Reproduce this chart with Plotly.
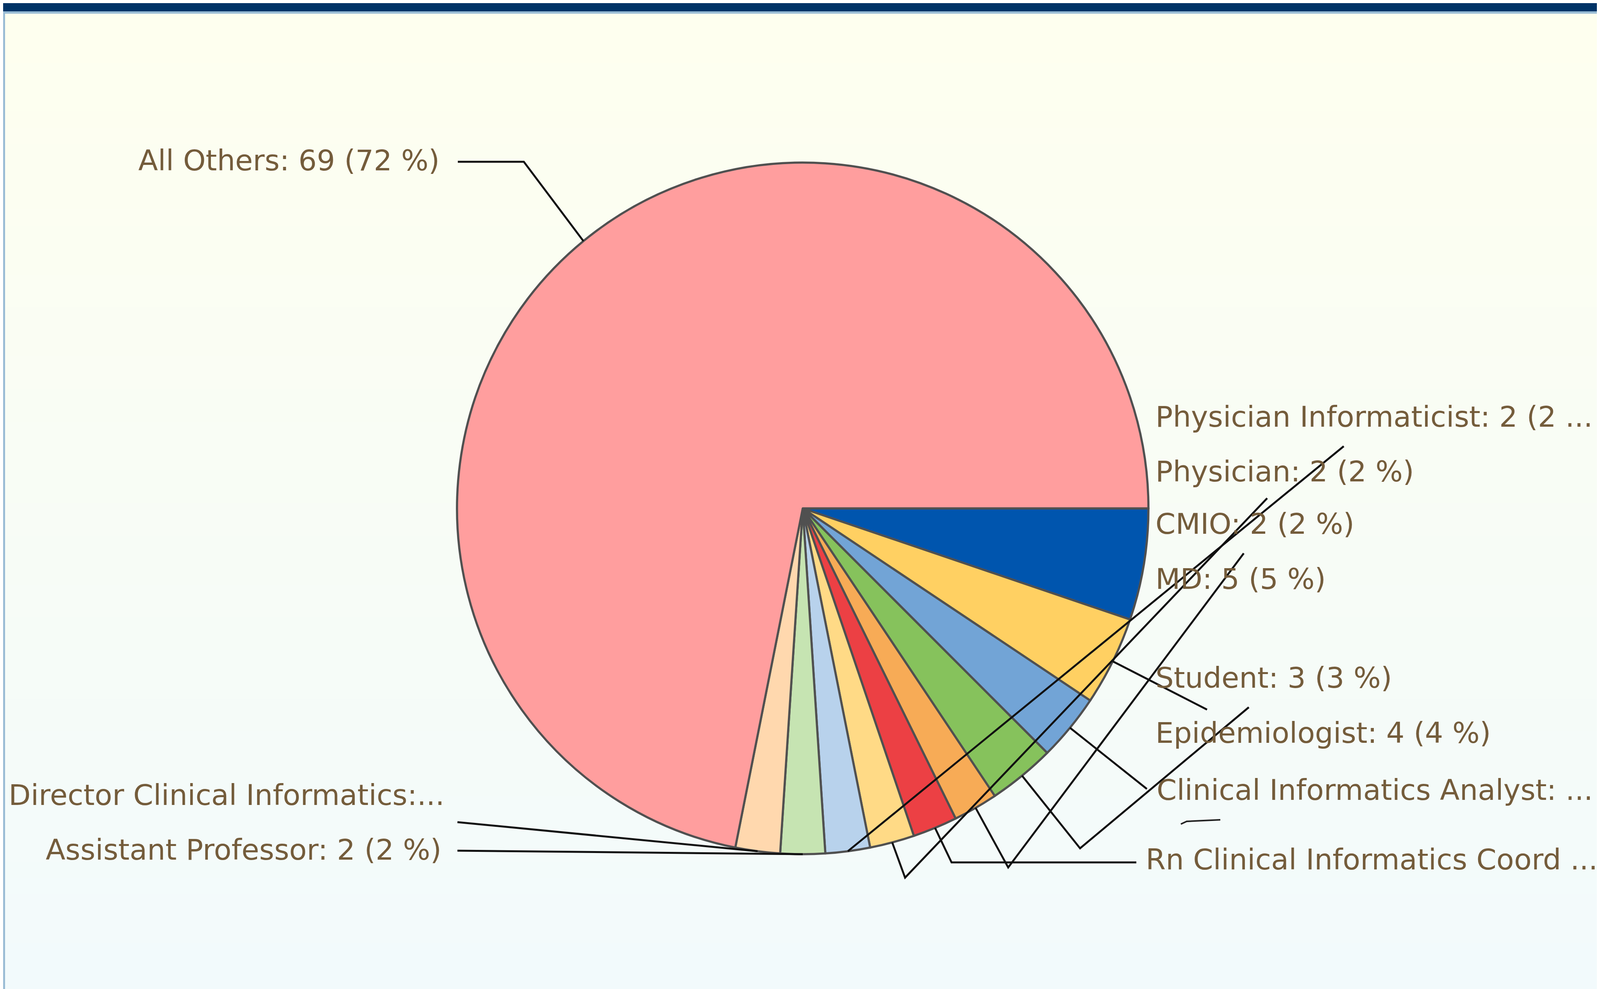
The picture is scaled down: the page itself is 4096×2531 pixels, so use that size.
import math
import plotly.graph_objects as go

# ---------------- data ----------------
categories = ["MD", "Epidemiologist", "Clinical Informatics Analyst", "Student", "CMIO",
              "Rn Clinical Informatics Coordinator", "Physician", "Physician Informaticist",
              "Assistant Professor", "Director Clinical Informatics", "All Others"]
counts = [5, 4, 3, 3, 2, 2, 2, 2, 2, 2, 69]
label_text = ["MD: 5 (5 %)", "Epidemiologist: 4 (4 %)", "Clinical Informatics Analyst: ...",
              "Student: 3 (3 %)", "CMIO: 2 (2 %)", "Rn Clinical Informatics Coord ...",
              "Physician: 2 (2 %)", "Physician Informaticist: 2 (2 ...",
              "Assistant Professor: 2 (2 %)", "Director Clinical Informatics:...",
              "All Others: 69 (72 %)"]

# ---------------- styles / layout (pixels of the 4096x2531 page) ----------------
slice_colors = ["#0055AE", "#FFD062", "#72A4D6", "#86C25C", "#F7AB56", "#EC4044",
                "#FFDA86", "#B8D2EC", "#C6E4B2", "#FFD8AE", "#FF9E9E"]
W, H = 4096, 2531
CX, CY, R = 2047, 1293, 885
TEXT_COLOR = "#745C3B"
FONT = "DejaVu Sans"
FS = 73.6

# label anchor: (x, y, xanchor)
label_pos = {
    "MD": (2948, 1473, "left"),
    "Epidemiologist": (2948, 1867, "left"),
    "Clinical Informatics Analyst": (2951, 2013, "left"),
    "Student": (2948, 1726, "left"),
    "CMIO": (2948, 1332, "left"),
    "Rn Clinical Informatics Coordinator": (2923, 2191, "left"),
    "Physician": (2948, 1198, "left"),
    "Physician Informaticist": (2948, 1058, "left"),
    "Assistant Professor": (1124, 2166, "right"),
    "Director Clinical Informatics": (1132, 2026, "right"),
    "All Others": (1120, 402, "right"),
}
# connector lines: (start + elbow points, slice the line runs to)
leaders = [
    ([(1164, 406), (1333, 406)], "All Others"),
    ([(1163, 2096)], "Director Clinical Informatics"),
    ([(1163, 2169)], "Assistant Professor"),
    ([(3432, 1134)], "Physician Informaticist"),
    ([(3236, 1267), (2309, 2238)], "Physician"),
    ([(3176, 1408), (2573, 2212)], "CMIO"),
    ([(2901, 2199), (2428, 2199)], "Rn Clinical Informatics Coordinator"),
    ([(3189, 1802), (2757, 2163)], "Student"),
    ([(2928, 2011)], "Clinical Informatics Analyst"),
    ([(3082, 1808)], "Epidemiologist"),
]
# short stray connector fragment visible under the analyst label
fragment = [(3015, 2101), (3030, 2094), (3116, 2090)]


def px(x):
    return x / W


def py(y):
    return 1 - y / H


# mid angle of each slice (clockwise from 3 o'clock, screen coords)
total = sum(counts)
mid_angle = {}
cum = 0
for c, v in zip(categories, counts):
    mid_angle[c] = (cum + v / 2) / total * 360.0
    cum += v

fig = go.Figure()
fig.add_trace(go.Pie(
    labels=categories,
    values=counts,
    sort=False,
    direction="clockwise",
    rotation=90,
    textinfo="none",
    hoverinfo="label+value+percent",
    marker=dict(colors=slice_colors, line=dict(color="#505050", width=5.5)),
    domain=dict(x=[px(CX - R), px(CX + R)], y=[py(CY + R), py(CY - R)]),
    showlegend=False,
))

shapes = []
# background vertical gradient (ivory -> pale cyan)
top_rgb = (254, 255, 239)
bot_rgb = (242, 250, 252)
n = 60
y0 = 27
for i in range(n):
    t = i / (n - 1)
    col = tuple(round(a + (b - a) * t) for a, b in zip(top_rgb, bot_rgb))
    ya = y0 + (H - y0) * i / n
    yb = y0 + (H - y0) * (i + 1) / n + 1
    shapes.append(dict(type="rect", xref="paper", yref="paper", layer="below",
                       x0=0, x1=1, y0=py(yb), y1=py(ya), line=dict(width=0),
                       fillcolor="rgb(%d,%d,%d)" % col))
# header bands and frame
shapes.append(dict(type="rect", xref="paper", yref="paper", layer="below", x0=0, x1=1,
                   y0=py(21), y1=1, line=dict(width=0), fillcolor="#003366"))
shapes.append(dict(type="rect", xref="paper", yref="paper", layer="below", x0=0, x1=1,
                   y0=py(27), y1=py(21), line=dict(width=0), fillcolor="#9ABCD5"))
shapes.append(dict(type="rect", xref="paper", yref="paper", layer="below", x0=0, x1=px(5),
                   y0=0, y1=py(21), line=dict(width=0), fillcolor="#9ABCD5"))
shapes.append(dict(type="rect", xref="paper", yref="paper", layer="below", x0=px(4087), x1=1,
                   y0=0, y1=py(21), line=dict(width=0), fillcolor="#C2E2F4"))
shapes.append(dict(type="rect", xref="paper", yref="paper", layer="below", x0=px(4090), x1=1,
                   y0=py(21), y1=1, line=dict(width=0), fillcolor="#000000"))

# connector lines
for pts, target in leaders:
    a = math.radians(mid_angle[target])
    end = (CX + R * math.cos(a), CY + R * math.sin(a))
    allp = pts + [end]
    path = "M " + " L ".join("%.5f,%.5f" % (px(x), py(y)) for x, y in allp)
    shapes.append(dict(type="path", xref="paper", yref="paper", layer="above", path=path,
                       line=dict(color="#111111", width=5)))
shapes.append(dict(type="path", xref="paper", yref="paper", layer="above",
                   path="M " + " L ".join("%.5f,%.5f" % (px(x), py(y)) for x, y in fragment),
                   line=dict(color="#222222", width=4)))

annotations = []
for c, t in zip(categories, label_text):
    x, y, anc = label_pos[c]
    annotations.append(dict(x=px(x), y=py(y), xref="paper", yref="paper", text=t,
                            showarrow=False, xanchor=anc, yanchor="middle",
                            font=dict(family=FONT, size=FS, color=TEXT_COLOR)))

fig.update_layout(
    width=W, height=H,
    margin=dict(l=0, r=0, t=0, b=0),
    paper_bgcolor="#F8FDF6",
    plot_bgcolor="rgba(0,0,0,0)",
    shapes=shapes,
    annotations=annotations,
)

fig.write_html("out.html")
